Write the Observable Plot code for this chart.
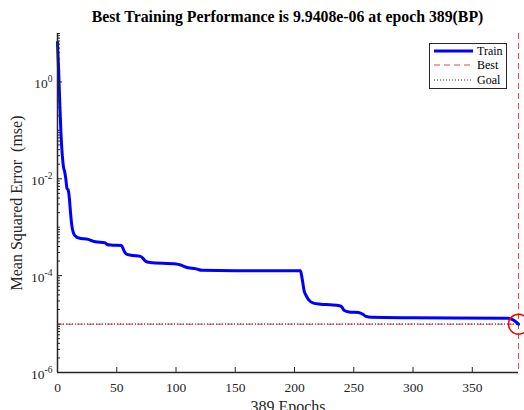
<!DOCTYPE html>
<html><head><meta charset="utf-8">
<script src="https://cdn.jsdelivr.net/npm/d3@7"></script>
<script src="https://cdn.jsdelivr.net/npm/@observablehq/plot@0.6"></script>
<style>
html,body{margin:0;padding:0;overflow:hidden;background:#fff;}
#wrap{position:relative;width:524px;height:410px;overflow:hidden;font-family:"Liberation Serif",serif;}
#title{position:absolute;left:57px;width:461px;top:7px;line-height:20px;text-align:center;font-weight:bold;font-size:15.8px;color:#000;white-space:nowrap;}
#chart{position:absolute;left:0;top:28px;}
#legend{position:absolute;left:429px;top:43px;}
</style></head><body>
<div id="wrap"><div id="chart"></div><div id="title"></div><div id="legend"></div></div>
<script>
// ---- data ----
const epochs = [0,1,2,3,4,5,6,7,8,9,10,11,12,13,14,16,18,26,29,32,40,42,45,54,56,58,62,70,72,74,78,100,104,108,117,122,150,205,206,207,208,210,212,216,222,230,238,240,242,246,254,258,260,265,300,380,385,389];
const mse = [6.6,1.66,0.316,0.0794,0.0316,0.0178,0.0141,0.01,0.0063,0.0059,0.004,0.002,0.00112,8.3e-4,7.1e-4,6.3e-4,6.0e-4,5.6e-4,5.25e-4,5.0e-4,4.8e-4,4.4e-4,4.27e-4,4.17e-4,3.3e-4,2.8e-4,2.63e-4,2.5e-4,2.3e-4,2.0e-4,1.86e-4,1.74e-4,1.66e-4,1.51e-4,1.38e-4,1.29e-4,1.26e-4,1.26e-4,1.0e-4,7.1e-5,5.0e-5,3.8e-5,3.16e-5,2.7e-5,2.57e-5,2.5e-5,2.4e-5,2.24e-5,1.9e-5,1.78e-5,1.74e-5,1.58e-5,1.45e-5,1.38e-5,1.35e-5,1.32e-5,1.2e-5,9.9408e-6];
const bestEpoch = 389;
const bestPerf = 9.9408e-6;
const goal = 1e-5;
const xTicks = [0,50,100,150,200,250,300,350];
const yTickValues = [1e-6,1e-4,1e-2,1];
const yTickExponents = ["-6","-4","-2","0"];
const titleText = "Best Training Performance is 9.9408e-06 at epoch 389(BP)";
const xLabel = "389 Epochs";
const yLabel = "Mean Squared Error  (mse)";
const legendLabels = ["Train","Best","Goal"];

// ---- build ----
const train = epochs.map((e,i)=>({epoch:e, mse:mse[i]}));
const minorTicks = [];
for (let p=-6;p<=0;p++) for (let m=1;m<=9;m++){const v=m*Math.pow(10,p); if(!yTickValues.some(t=>Math.abs(t/v-1)<1e-9)) minorTicks.push(v);}
minorTicks.push(10);

const RED = "#e8474a";
const AX = "#262626";
const plot = Plot.plot({
  width:524, height:392, marginLeft:57, marginRight:6, marginTop:5, marginBottom:48,
  style:{fontFamily:"Liberation Serif", fontSize:"13.5px", color:AX, background:"transparent", overflow:"visible"},
  x:{domain:[0,bestEpoch]},
  y:{type:"log", domain:[1e-6,10]},
  marks:[
    Plot.ruleY([goal],{stroke:"#000", strokeDasharray:"1,2", strokeWidth:1}),
    Plot.ruleY([bestPerf],{stroke:RED, strokeDasharray:"6,4", strokeWidth:1}),
    Plot.ruleX([bestEpoch],{stroke:RED, strokeDasharray:"6,4", strokeWidth:1}),
    Plot.line(train,{x:"epoch", y:"mse", stroke:"#0000ff", strokeWidth:3, curve:"monotone-x"}),
    Plot.dot([{epoch:bestEpoch, mse:bestPerf}],{x:"epoch", y:"mse", r:10, stroke:"#ff0000", strokeWidth:1.5, fill:"none"}),
    Plot.ruleX([0],{stroke:AX, strokeWidth:1.5}),
    Plot.ruleY([1e-6],{stroke:AX, strokeWidth:1.5}),
    Plot.axisX({ticks:xTicks, tickSize:5, dy:-5, text:null, label:null, stroke:AX}),
    Plot.axisX({ticks:xTicks, tickSize:0, tickPadding:10, tickFormat:d=>String(d), label:xLabel, labelAnchor:"center", labelOffset:39, labelArrow:"none"}),
    Plot.axisY({ticks:minorTicks, tickSize:3, dx:3, text:null, label:null, stroke:AX}),
    Plot.axisY({ticks:yTickValues, tickSize:5, dx:5, text:null, label:null, stroke:AX}),
    Plot.axisY({ticks:yTickValues, tickSize:0, tickPadding:5, tickFormat:d=>yTickExponents[yTickValues.indexOf(d)], label:yLabel, labelAnchor:"center", labelOffset:47, labelArrow:"none"})
  ]
});
document.getElementById("chart").appendChild(plot);

// superscript tick labels (only the labelled decades)
d3.select(plot).selectAll('g[aria-label="y-axis tick label"] text').each(function(){
  const t = d3.select(this); const ex = t.text();
  if (!yTickExponents.includes(ex)) { if (ex === "") t.remove(); return; }
  t.text(null);
  t.append("tspan").attr("dy","0.15em").text("10");
  t.append("tspan").attr("dy","-0.62em").attr("font-size","9.5px").text(ex);
});
d3.select(plot).selectAll('g[aria-label="y-axis label"] text, g[aria-label="x-axis label"] text').attr("font-size","16px");

document.getElementById("title").textContent = titleText;

// legend
const lg = d3.select("#legend").append("svg").attr("width",79).attr("height",47).style("font-family","Liberation Serif").style("font-size","12px");
lg.append("rect").attr("x",0.5).attr("y",0.5).attr("width",77).attr("height",45).attr("fill","#fff").attr("stroke",AX);
const styles = [{stroke:"#0000ff", w:3, dash:null},{stroke:RED, w:1, dash:"6,4"},{stroke:"#333", w:1, dash:"1,2"}];
const ys = [8, 22, 37];
legendLabels.forEach((lab,i)=>{
  lg.append("line").attr("x1",5).attr("x2",44).attr("y1",ys[i]).attr("y2",ys[i]).attr("stroke",styles[i].stroke).attr("stroke-width",styles[i].w).attr("stroke-dasharray",styles[i].dash);
  lg.append("text").attr("x",48).attr("y",ys[i]).attr("dy","0.35em").attr("fill","#000").text(lab);
});
</script></body></html>
